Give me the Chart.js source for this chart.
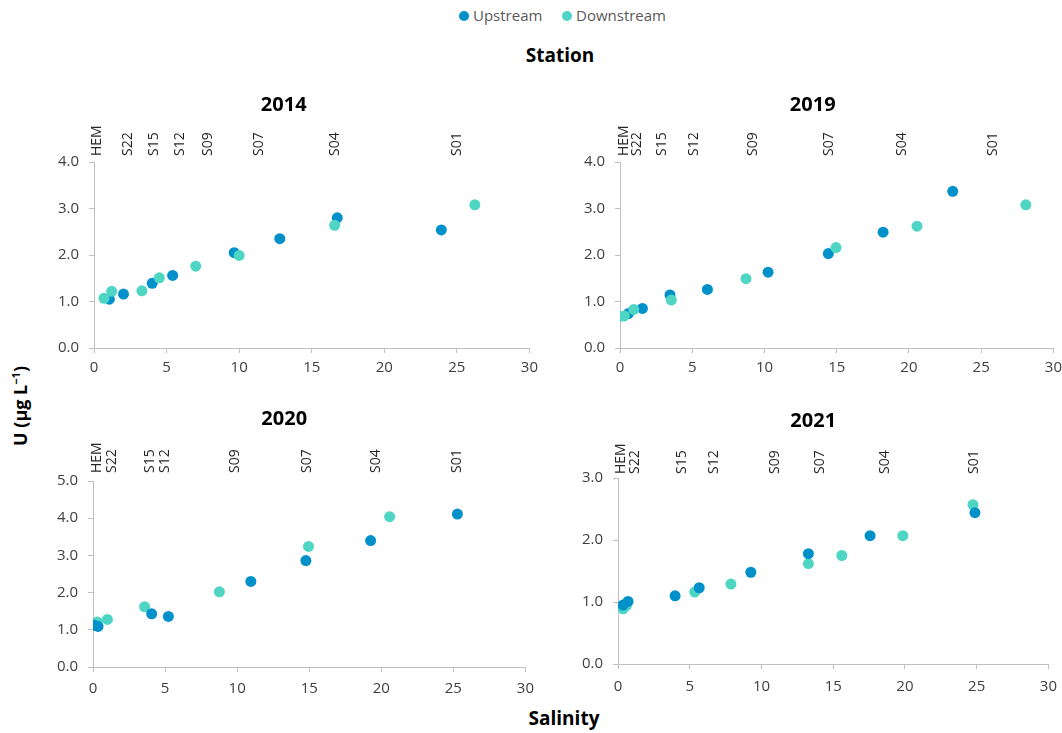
<!DOCTYPE html>
<html>
<head>
<meta charset="utf-8">
<script src="https://cdn.jsdelivr.net/npm/chart.js@4.4.1/dist/chart.umd.min.js"></script>
<style>
  html, body { margin: 0; padding: 0; background: #fff; }
  body { width: 1062px; height: 733px; position: relative; overflow: hidden; font-family: "Open Sans", sans-serif; }
  canvas { position: absolute; }
  .txt { position: absolute; white-space: nowrap; }
  .legend { position: absolute; top: 5px; font-size: 15px; color: #595959; line-height: 20px; }
  .dot { display: inline-block; width: 10px; height: 10px; border-radius: 50%; margin-right: 4px; vertical-align: 0px; }
</style>
</head>
<body>
<div class="legend" style="left:459px;"><span class="dot" style="background:#0091CB"></span>Upstream</div>
<div class="legend" style="left:562px;"><span class="dot" style="background:#4FD5C3"></span>Downstream</div>
<div class="txt" style="left:560px; top:55px; transform:translate(-50%,-50%); font-weight:bold; font-size:19px; color:#000;">Station</div>
<div class="txt" style="left:564px; top:718px; transform:translate(-50%,-50%); font-weight:bold; font-size:19px; color:#000;">Salinity</div>
<div class="txt" style="left:20px; top:406px; transform:translate(-50%,-50%) rotate(-90deg); font-weight:bold; font-size:18px; color:#000;">U (µg L<sup style="font-size:11px">−1</sup>)</div>

<canvas id="c2014" width="516" height="290" style="left:28px; top:90px;"></canvas>
<canvas id="c2019" width="508" height="290" style="left:560px; top:90px;"></canvas>
<canvas id="c2020" width="514" height="300" style="left:28px; top:405px;"></canvas>
<canvas id="c2021" width="506" height="300" style="left:560px; top:405px;"></canvas>

<script>
// ---- data ----
const stations = ['HEM', 'S22', 'S15', 'S12', 'S09', 'S07', 'S04', 'S01'];
const xTicks = [0, 5, 10, 15, 20, 25, 30];

const stationSal2014 = [0.23, 2.33, 4.13, 5.95, 7.84, 11.39, 16.6, 25.04];
const upSal2014 = [1.06, 2.03, 4.01, 5.42, 9.66, 12.8, 16.76, 23.93];
const upU2014 = [1.05, 1.16, 1.39, 1.56, 2.05, 2.35, 2.80, 2.54];
const downSal2014 = [0.69, 1.22, 3.30, 4.50, 7.01, 10.0, 16.58, 26.24];
const downU2014 = [1.07, 1.22, 1.23, 1.51, 1.76, 1.99, 2.64, 3.08];

const stationSal2019 = [0.25, 1.15, 2.9, 5.1, 9.2, 14.5, 19.5, 25.85];
const upSal2019 = [0.58, 1.55, 3.46, 6.05, 10.25, 14.42, 18.21, 23.03];
const upU2019 = [0.74, 0.85, 1.14, 1.26, 1.63, 2.03, 2.49, 3.37];
const downSal2019 = [0.0, 0.3, 0.95, 3.55, 8.72, 14.95, 20.56, 28.09];
const downU2019 = [0.68, 0.69, 0.83, 1.03, 1.49, 2.16, 2.62, 3.08];

const stationSal2020 = [0.3, 1.35, 3.98, 4.98, 9.88, 14.86, 19.65, 25.28];
const upSal2020 = [0.1, 0.35, 4.07, 5.23, 10.95, 14.77, 19.26, 25.28];
const upU2020 = [1.12, 1.09, 1.43, 1.36, 2.30, 2.86, 3.40, 4.11];
const downSal2020 = [0.3, 1.0, 3.58, 8.77, 14.95, 20.58];
const downU2020 = [1.21, 1.28, 1.62, 2.02, 3.24, 4.04];

const stationSal2021 = [0.2, 1.2, 4.47, 6.68, 10.94, 14.08, 18.62, 24.83];
const upSal2021 = [0.35, 0.7, 3.98, 5.66, 9.26, 13.27, 17.57, 24.88];
const upU2021 = [0.95, 1.01, 1.10, 1.23, 1.48, 1.78, 2.07, 2.44];
const downSal2021 = [0.35, 0.58, 5.35, 7.87, 13.27, 15.6, 19.85, 24.74];
const downU2021 = [0.89, 0.94, 1.16, 1.29, 1.62, 1.75, 2.07, 2.57];

const upColor = '#0091CB';
const downColor = '#4FD5C3';
const axisColor = '#BFBFBF';
const tickColor = '#404040';

const pts = (xs, ys) => xs.map((x, i) => ({ x: x, y: ys[i] }));

const panelPlugin = {
  id: 'panel',
  afterDraw(chart) {
    const o = chart.options.plugins.panel;
    const ctx = chart.ctx;
    const a = chart.chartArea;
    const xs = chart.scales.x;
    ctx.save();
    ctx.font = 'bold 20px "Open Sans"';
    ctx.fillStyle = '#000';
    ctx.textAlign = 'center';
    ctx.textBaseline = 'middle';
    ctx.fillText(o.title, (a.left + a.right) / 2 + o.titleDx, a.top + o.titleDy);
    ctx.font = '14px "Open Sans"';
    ctx.fillStyle = '#262626';
    ctx.textAlign = 'left';
    ctx.textBaseline = 'middle';
    o.names.forEach((n, i) => {
      const px = xs.getPixelForValue(o.positions[i]);
      ctx.save();
      ctx.translate(px, a.top - o.gap);
      ctx.rotate(-Math.PI / 2);
      ctx.fillText(n, 0, 0);
      ctx.restore();
    });
    ctx.restore();
  }
};

function makeChart(id, cfg) {
  new Chart(document.getElementById(id), {
    type: 'scatter',
    data: {
      datasets: [
        { label: 'Upstream', data: pts(cfg.upX, cfg.upY), backgroundColor: upColor, borderColor: upColor,
          pointRadius: 5.5, pointHoverRadius: 5.5, borderWidth: 0, order: cfg.upOrder },
        { label: 'Downstream', data: pts(cfg.downX, cfg.downY), backgroundColor: downColor, borderColor: downColor,
          pointRadius: 5.5, pointHoverRadius: 5.5, borderWidth: 0, order: cfg.downOrder }
      ]
    },
    options: {
      responsive: false,
      animation: false,
      devicePixelRatio: 1,
      layout: { padding: { top: cfg.padTop, right: 5, bottom: 0, left: 0 } },
      plugins: {
        legend: { display: false },
        tooltip: { enabled: false },
        panel: { title: cfg.title, titleDx: cfg.titleDx, titleDy: cfg.titleDy, gap: cfg.gap,
                 names: stations, positions: cfg.stationX }
      },
      scales: {
        x: {
          type: 'linear', min: 0, max: 30,
          afterBuildTicks: (s) => { s.ticks = xTicks.map(v => ({ value: v })); },
          afterFit: (s) => { s.height = cfg.xHeight; },
          grid: { drawOnChartArea: false, drawTicks: true, tickLength: 5, color: axisColor },
          border: { color: axisColor, width: 1 },
          ticks: { color: tickColor, font: { family: 'Open Sans', size: 15 }, padding: cfg.xPad, maxRotation: 0 }
        },
        y: {
          type: 'linear', min: 0, max: cfg.yMax,
          afterBuildTicks: (s) => { s.ticks = cfg.yTicks.map(v => ({ value: v })); },
          afterFit: (s) => { s.width = cfg.yWidth; },
          grid: { drawOnChartArea: false, drawTicks: true, tickLength: 5, color: axisColor },
          border: { color: axisColor, width: 1 },
          ticks: { color: tickColor, font: { family: 'Open Sans', size: 15 }, padding: 10,
                   callback: (v) => Number(v).toFixed(1) }
        }
      }
    },
    plugins: [panelPlugin]
  });
}

makeChart('c2014', { title: '2014', upX: upSal2014, upY: upU2014, downX: downSal2014, downY: downU2014,
  stationX: stationSal2014, yMax: 4, yTicks: [0, 1, 2, 3, 4], upOrder: 1, downOrder: 0,
  padTop: 72, yWidth: 66, xHeight: 32, xPad: 6, titleDx: -28, titleDy: -57, gap: 6 });

makeChart('c2019', { title: '2019', upX: upSal2019, upY: upU2019, downX: downSal2019, downY: downU2019,
  stationX: stationSal2019, yMax: 4, yTicks: [0, 1, 2, 3, 4], upOrder: 1, downOrder: 0,
  padTop: 72, yWidth: 60, xHeight: 32, xPad: 6, titleDx: -24, titleDy: -57, gap: 6 });

makeChart('c2020', { title: '2020', upX: upSal2020, upY: upU2020, downX: downSal2020, downY: downU2020,
  stationX: stationSal2020, yMax: 5, yTicks: [0, 1, 2, 3, 4, 5], upOrder: 0, downOrder: 1,
  padTop: 76, yWidth: 65, xHeight: 38, xPad: 8, titleDx: -25, titleDy: -62, gap: 8 });

makeChart('c2021', { title: '2021', upX: upSal2021, upY: upU2021, downX: downSal2021, downY: downU2021,
  stationX: stationSal2021, yMax: 3, yTicks: [0, 1, 2, 3], upOrder: 0, downOrder: 1,
  padTop: 73, yWidth: 58, xHeight: 41, xPad: 9, titleDx: -20, titleDy: -57, gap: 4 });
</script>
</body>
</html>
